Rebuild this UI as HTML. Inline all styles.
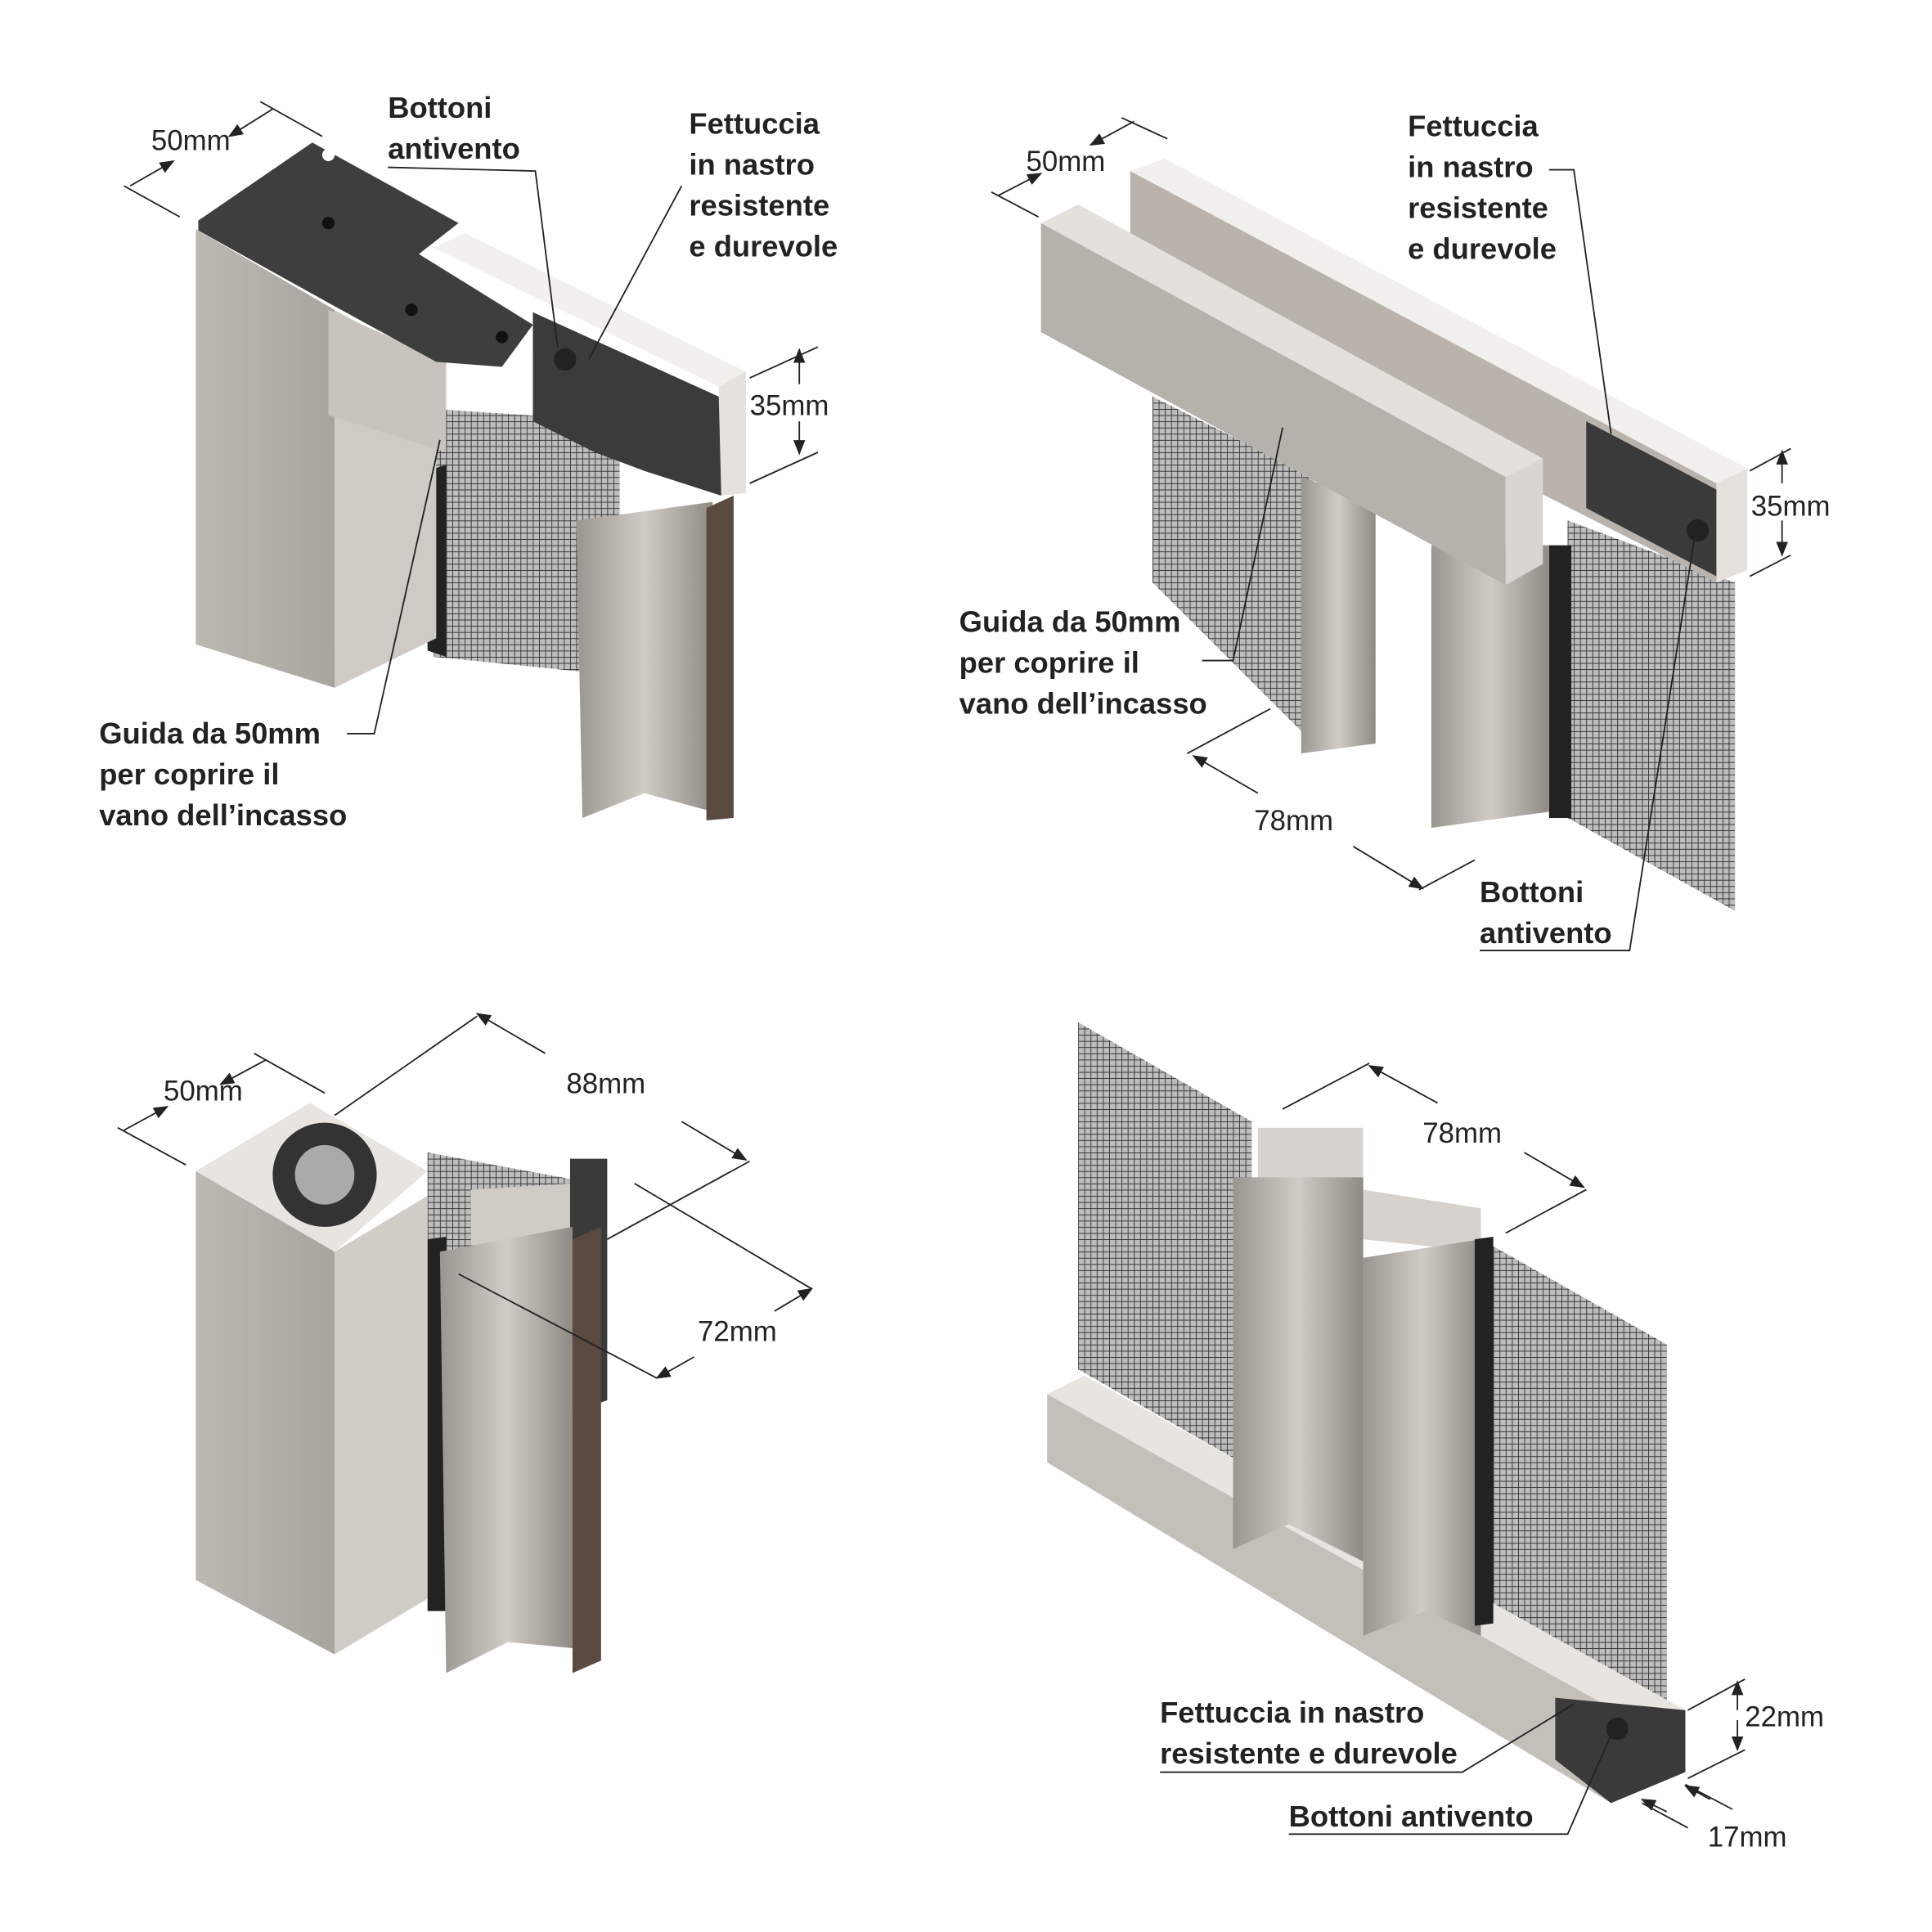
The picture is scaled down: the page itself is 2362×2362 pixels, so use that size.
<!DOCTYPE html>
<html><head><meta charset="utf-8"><style>
html,body{margin:0;padding:0;background:#fff}
svg{display:block}
.b{font-family:"Liberation Sans",sans-serif;font-weight:bold;font-size:24px;fill:#222}
.d{font-family:"Liberation Sans",sans-serif;font-size:23px;fill:#222}
.l{stroke:#222;stroke-width:1.2;fill:none}
</style></head><body>
<svg width="2362" height="2362" viewBox="0 0 1559 1559" xmlns="http://www.w3.org/2000/svg">
<defs>
<pattern id="mesh" width="5" height="5" patternUnits="userSpaceOnUse">
<rect width="5" height="5" fill="#bdbdbd"/><path d="M0 0H5M0 0V5" stroke="#333" stroke-width="1.2"/></pattern>
<marker id="ar" markerWidth="10" markerHeight="8" refX="9" refY="4" orient="auto"><path d="M0 0L10 4L0 8z" fill="#222"/></marker>
<linearGradient id="g1" x1="0" x2="1"><stop offset="0" stop-color="#bcb8b2"/><stop offset="1" stop-color="#a8a49e"/></linearGradient>
<linearGradient id="g2" x1="0" x2="1"><stop offset="0" stop-color="#9a958f"/><stop offset="0.5" stop-color="#cfccc6"/><stop offset="1" stop-color="#8f8a84"/></linearGradient>
</defs>
<rect width="1559" height="1559" fill="#fff"/>

<!-- Q1 -->
<polygon points="350,330 500,340 500,545 350,530" fill="url(#mesh)"/>
<polygon points="345,380 360,375 360,530 345,525" fill="#222"/>
<polygon points="350,200 375,188 602,300 580,312" fill="#f2f0ec"/>
<polygon points="580,312 602,300 602,398 580,400" fill="#e5e2dd"/>
<polygon points="430,252 580,320 582,400 520,380 480,365 430,340" fill="#3b3b3b"/>
<circle cx="456" cy="290" r="9" fill="#222"/>
<polygon points="158,185 270,250 270,555 158,520" fill="url(#g1)"/>
<polygon points="270,250 352,295 352,515 270,555" fill="#cfcbc4"/>
<polygon points="265,250 360,292 360,365 265,335" fill="#c8c4bd"/>
<polygon points="160,178 252,115 370,180 338,205 430,262 405,296 352,292 268,246 160,186" fill="#3e3e3e"/>
<circle cx="265" cy="125" r="5" fill="#fff"/><circle cx="265" cy="180" r="5" fill="#111"/>
<circle cx="332" cy="250" r="5" fill="#111"/><circle cx="405" cy="272" r="5" fill="#111"/>
<polygon points="465,420 575,405 575,655 520,640 470,660" fill="url(#g2)"/>
<polygon points="570,410 592,400 592,660 570,662" fill="#5a4a40"/>
<line class="l" x1="100" y1="150" x2="145" y2="175"/><line class="l" x1="210" y1="82" x2="260" y2="110"/>
<line class="l" x1="105" y1="150" x2="140" y2="130" marker-end="url(#ar)"/><line class="l" x1="220" y1="88" x2="185" y2="110" marker-end="url(#ar)"/>
<text class="d" x="122" y="121">50mm</text>
<line class="l" x1="605" y1="305" x2="660" y2="280"/><line class="l" x1="605" y1="390" x2="660" y2="365"/>
<line class="l" x1="645" y1="310" x2="645" y2="282" marker-end="url(#ar)"/><line class="l" x1="645" y1="340" x2="645" y2="366" marker-end="url(#ar)"/>
<text class="d" x="605" y="335">35mm</text>
<text class="b" x="313" y="95">Bottoni</text><text class="b" x="313" y="128">antivento</text>
<polyline class="l" points="313,135 432,138 450,280"/>
<text class="b" x="556" y="108">Fettuccia</text><text class="b" x="556" y="141">in nastro</text>
<text class="b" x="556" y="174">resistente</text><text class="b" x="556" y="207">e durevole</text>
<line class="l" x1="550" y1="150" x2="475" y2="290"/>
<text class="b" x="80" y="600">Guida da 50mm</text><text class="b" x="80" y="633">per coprire il</text><text class="b" x="80" y="666">vano dell’incasso</text>
<polyline class="l" points="280,592 302,592 355,355"/>

<!-- Q2 -->
<polygon points="930,320 1060,385 1060,600 930,470" fill="url(#mesh)"/>
<polygon points="1265,420 1400,470 1400,735 1265,660" fill="url(#mesh)"/>
<polygon points="1250,440 1268,440 1268,660 1250,660" fill="#222"/>
<polygon points="1050,385 1110,405 1110,600 1050,608" fill="url(#g2)"/>
<polygon points="1155,440 1250,440 1250,655 1155,668" fill="url(#g2)"/>
<polygon points="912,138 940,128 1410,378 1385,390" fill="#f2f0ec"/>
<polygon points="912,138 1385,390 1385,470 912,230" fill="#b9b3ac"/>
<polygon points="1385,390 1410,378 1410,460 1385,470" fill="#e5e2dd"/>
<polygon points="1280,340 1385,395 1385,465 1280,410" fill="#3a3a3a"/>
<circle cx="1370" cy="428" r="9" fill="#222"/>
<polygon points="840,180 870,165 1245,370 1215,385" fill="#e4e1dc"/>
<polygon points="840,180 1215,385 1215,472 840,268" fill="#b5b1ab"/>
<polygon points="1215,385 1245,370 1245,455 1215,472" fill="#d9d6d1"/>
<line class="l" x1="800" y1="155" x2="838" y2="175"/><line class="l" x1="905" y1="95" x2="942" y2="112"/>
<line class="l" x1="805" y1="158" x2="840" y2="140" marker-end="url(#ar)"/><line class="l" x1="915" y1="98" x2="880" y2="117" marker-end="url(#ar)"/>
<text class="d" x="828" y="138">50mm</text>
<line class="l" x1="1412" y1="380" x2="1445" y2="362"/><line class="l" x1="1412" y1="465" x2="1445" y2="448"/>
<line class="l" x1="1438" y1="390" x2="1438" y2="364" marker-end="url(#ar)"/><line class="l" x1="1438" y1="420" x2="1438" y2="448" marker-end="url(#ar)"/>
<text class="d" x="1413" y="416">35mm</text>
<line class="l" x1="958" y1="608" x2="1025" y2="572"/><line class="l" x1="1145" y1="718" x2="1190" y2="694"/>
<line class="l" x1="1015" y1="640" x2="963" y2="610" marker-end="url(#ar)"/><line class="l" x1="1092" y1="683" x2="1148" y2="717" marker-end="url(#ar)"/>
<text class="d" x="1012" y="670">78mm</text>
<text class="b" x="1136" y="110">Fettuccia</text><text class="b" x="1136" y="143">in nastro</text>
<text class="b" x="1136" y="176">resistente</text><text class="b" x="1136" y="209">e durevole</text>
<polyline class="l" points="1250,137 1270,137 1300,350"/>
<text class="b" x="774" y="510">Guida da 50mm</text><text class="b" x="774" y="543">per coprire il</text><text class="b" x="774" y="576">vano dell’incasso</text>
<polyline class="l" points="970,533 995,533 1035,345"/>
<text class="b" x="1194" y="728">Bottoni</text><text class="b" x="1194" y="761">antivento</text>
<polyline class="l" points="1194,767 1315,767 1368,430"/>

<!-- Q3 -->
<polygon points="345,930 480,955 480,1300 345,1290" fill="url(#mesh)"/>
<polygon points="345,1000 360,998 360,1300 345,1300" fill="#222"/>
<polygon points="460,935 490,935 490,1130 460,1140" fill="#3a3a3a"/>
<polygon points="158,945 270,1010 270,1335 158,1275" fill="url(#g1)"/>
<polygon points="270,1010 345,965 345,1290 270,1335" fill="#d0ccc6"/>
<polygon points="158,945 250,890 345,945 270,1010" fill="#e8e5e0"/>
<circle cx="262" cy="948" r="42" fill="#333"/><circle cx="262" cy="948" r="24" fill="#aaa"/>
<polygon points="380,960 460,955 460,1000 380,1005" fill="#cfccc6"/>
<polygon points="355,1010 462,990 462,1330 410,1325 360,1350" fill="url(#g2)"/>
<polygon points="462,1000 485,990 485,1340 462,1350" fill="#5a4a40"/>
<line class="l" x1="95" y1="910" x2="150" y2="940"/><line class="l" x1="205" y1="850" x2="262" y2="882"/>
<line class="l" x1="100" y1="912" x2="135" y2="893" marker-end="url(#ar)"/><line class="l" x1="215" y1="855" x2="178" y2="875" marker-end="url(#ar)"/>
<text class="d" x="132" y="888">50mm</text>
<line class="l" x1="270" y1="900" x2="385" y2="820"/><line class="l" x1="490" y1="1000" x2="605" y2="937"/>
<line class="l" x1="440" y1="850" x2="385" y2="818" marker-end="url(#ar)"/><line class="l" x1="550" y1="905" x2="602" y2="936" marker-end="url(#ar)"/>
<text class="d" x="457" y="882">88mm</text>
<line class="l" x1="370" y1="1028" x2="530" y2="1112"/><line class="l" x1="512" y1="955" x2="655" y2="1040"/>
<line class="l" x1="560" y1="1095" x2="530" y2="1112" marker-end="url(#ar)"/><line class="l" x1="625" y1="1058" x2="655" y2="1040" marker-end="url(#ar)"/>
<text class="d" x="563" y="1082">72mm</text>

<!-- Q4 -->
<polygon points="870,825 1010,905 1010,1185 870,1105" fill="url(#mesh)"/>
<polygon points="1195,1000 1345,1085 1345,1375 1195,1290" fill="url(#mesh)"/>
<polygon points="845,1125 875,1110 1360,1380 1330,1395" fill="#e8e5e0"/>
<polygon points="845,1125 1330,1395 1330,1440 1300,1455 845,1180" fill="#c3bfb9"/>
<polygon points="1255,1370 1360,1380 1360,1430 1300,1455 1255,1420" fill="#3a3a3a"/>
<circle cx="1305" cy="1395" r="9" fill="#222"/>
<polygon points="1015,910 1100,910 1100,960 1015,960" fill="#d6d3ce"/>
<polygon points="1100,960 1195,975 1195,1010 1100,1000" fill="#d6d3ce"/>
<polygon points="995,950 1100,950 1100,1260 1040,1230 995,1250" fill="url(#g2)"/>
<polygon points="1100,1015 1195,1000 1195,1320 1150,1300 1100,1320" fill="url(#g2)"/>
<polygon points="1190,1000 1205,998 1205,1310 1190,1312" fill="#222"/>
<line class="l" x1="1035" y1="895" x2="1105" y2="858"/><line class="l" x1="1215" y1="995" x2="1280" y2="960"/>
<line class="l" x1="1160" y1="890" x2="1105" y2="860" marker-end="url(#ar)"/><line class="l" x1="1230" y1="930" x2="1278" y2="958" marker-end="url(#ar)"/>
<text class="d" x="1148" y="922">78mm</text>
<line class="l" x1="1362" y1="1380" x2="1408" y2="1355"/><line class="l" x1="1362" y1="1435" x2="1408" y2="1412"/>
<line class="l" x1="1402" y1="1380" x2="1402" y2="1357" marker-end="url(#ar)"/><line class="l" x1="1402" y1="1388" x2="1402" y2="1412" marker-end="url(#ar)"/>
<text class="d" x="1408" y="1393">22mm</text>
<line class="l" x1="1325" y1="1455" x2="1362" y2="1475"/><line class="l" x1="1360" y1="1440" x2="1398" y2="1460"/>
<line class="l" x1="1345" y1="1462" x2="1325" y2="1452" marker-end="url(#ar)"/><line class="l" x1="1380" y1="1452" x2="1360" y2="1441" marker-end="url(#ar)"/>
<text class="d" x="1378" y="1490">17mm</text>
<text class="b" x="936" y="1390">Fettuccia in nastro</text><text class="b" x="936" y="1423">resistente e durevole</text>
<polyline class="l" points="936,1430 1180,1430 1270,1375"/>
<text class="b" x="1040" y="1474">Bottoni antivento</text>
<polyline class="l" points="1040,1480 1265,1480 1300,1400"/>
</svg>
</body></html>
